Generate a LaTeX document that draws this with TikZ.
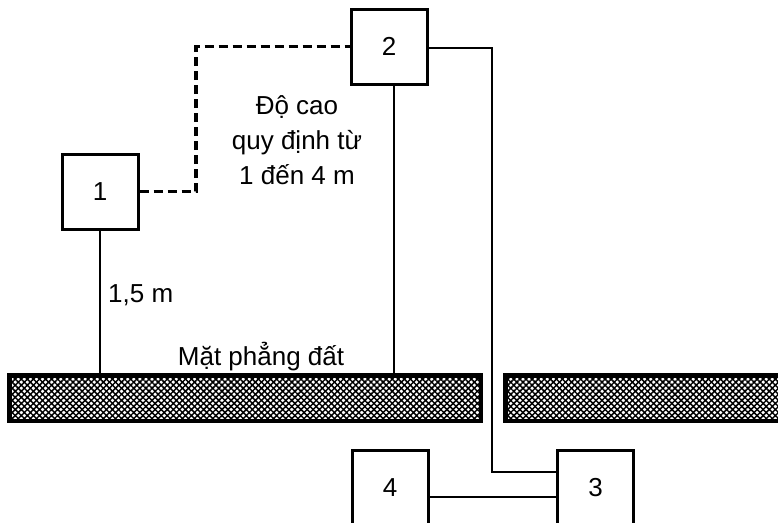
\documentclass[tikz,border=0pt]{standalone}
\usepackage{fontspec}
\setmainfont{Liberation Sans}
\usetikzlibrary{patterns.meta}
\begin{document}
\begin{tikzpicture}[x=1pt,y=-1pt,
  box/.style={draw,line width=3pt,minimum width=76pt,minimum height=75pt,inner sep=0pt,font=\fontsize{26}{30}\selectfont},
  wire/.style={line width=2.8pt},
  dwire/.style={line width=3.4pt,dash pattern=on 9pt off 5pt},
  lbl/.style={font=\fontsize{26}{35}\selectfont,inner sep=0pt},
  ground/.style={draw,line width=3pt,inner sep=0pt}]
\useasboundingbox (0,0) rectangle (778,522);
\clip (0,0) rectangle (778,522);
% ground bars
\node[ground,minimum width=470pt,minimum height=44pt] (gL) at (245,398) {};
\node[ground,minimum width=274pt,minimum height=44pt] (gR) at (643,398) {};
\foreach \g in {gL,gR}{
  \fill[pattern={Lines[angle=45,distance=4.3pt,line width=1.5pt]}] (\g.south west) rectangle (\g.north east);
  \fill[pattern={Lines[angle=-45,distance=4.3pt,line width=1.5pt]}] (\g.south west) rectangle (\g.north east);
  \draw[line width=3pt] (\g.south west) rectangle (\g.north east);
}
% boxes
\node[box] (b1) at (100,191.5) {1};
\node[box] (b2) at (389,46.5) {2};
\node[box] (b3) at (595.5,487.5) {3};
\node[box] (b4) at (390,487.5) {4};
% connectors
\draw[wire] (b1.south) -- (b1.south |- gL.north);
\coordinate (b2s) at ([xshift=5pt]b2.south);
\draw[wire] (b2s) -- (b2s |- gL.north);
\coordinate (b2out) at ([yshift=-1.5pt]b2.east);
\coordinate (turn) at (492,48);
\coordinate (b3in) at ([yshift=15.5pt]b3.west);
\draw[wire] (b2out) -- (turn |- b2out) -- (turn |- b3in) -- (b3in);
\draw[wire] ([yshift=-9.5pt]b4.east) -- ([yshift=-9.5pt]b3.west);
\coordinate (dturn) at (196,46.5);
\draw[dwire] (b1.east) -- (dturn |- b1.east) -- (dturn) -- (b2.west);
% labels
\node[lbl,anchor=base,align=center] (txt) at (297,184) {Độ cao\\quy định từ\\1 đến 4 m};
\node[lbl,anchor=base west] (h15) at (108,302) {1,5 m};
\node[lbl,anchor=base] (gnd) at (261,365) {Mặt phẳng đất};
\end{tikzpicture}
\end{document}
